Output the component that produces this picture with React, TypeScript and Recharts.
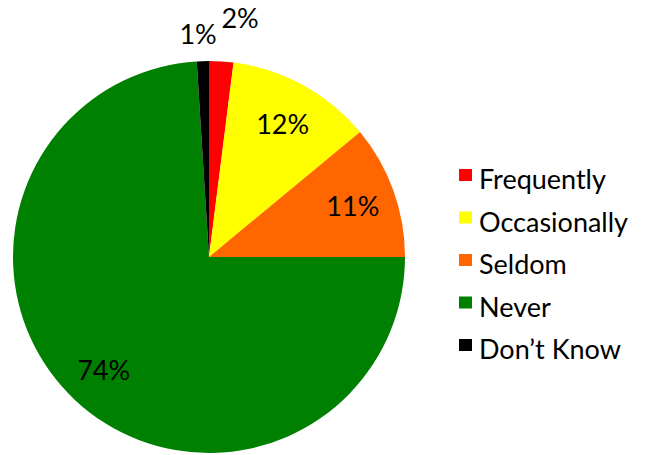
import React from "react";
import { PieChart, Pie, Cell, Legend } from "recharts";

const categories = ["Frequently", "Occasionally", "Seldom", "Never", "Don\u2019t Know"];
const values = [2, 12, 11, 74, 1];
const labels = ["2%", "12%", "11%", "74%", "1%"];
const colors = ["#FF0000", "#FFFF00", "#FF6600", "#008000", "#000000"];

const data = categories.map((name, i) => ({ name, value: values[i], label: labels[i] }));

const FONT = "Lato, 'Open Sans', sans-serif";
const FS = 27;
const RAD = Math.PI / 180;

// label radius (relative to outerRadius) and angle tweak per slice
const labelR = [1.23, 0.78, 0.78, 0.785, 1.143];
const labelDA = [-3.8, 0, 0, 0, 1];

const renderLabel = (props: any) => {
  const { cx, cy, midAngle, outerRadius, index } = props;
  const r = outerRadius * labelR[index];
  const a = (midAngle + labelDA[index]) * RAD;
  const x = cx + r * Math.cos(a);
  const y = cy - r * Math.sin(a);
  return (
    <text
      x={x}
      y={y}
      fill="#000"
      fontSize={FS}
      fontFamily={FONT}
      textAnchor="middle"
      dominantBaseline="central"
    >
      {data[index].label}
    </text>
  );
};

const ROW = 42.5;

const renderLegend = () => (
  <svg width={186} height={230} style={{ display: "block", overflow: "visible" }}>
    {data.map((d, i) => (
      <g key={d.name}>
        <rect x={0} y={9 + i * ROW} width={13} height={12} fill={colors[i]} />
        <text x={20} y={29 + i * ROW} fontSize={FS} fontFamily={FONT} fill="#000">
          {d.name}
        </text>
      </g>
    ))}
  </svg>
);

export default function App() {
  return (
    <div style={{ position: "absolute", left: 0, top: 0, background: "#fff" }}>
      <PieChart width={645} height={455} margin={{ top: 0, right: 0, bottom: 0, left: 0 }}>
        <Pie
          data={data}
          dataKey="value"
          nameKey="name"
          cx={209}
          cy={257}
          outerRadius={196}
          startAngle={90}
          endAngle={-270}
          stroke="none"
          label={renderLabel}
          labelLine={false}
          isAnimationActive={false}
        >
          {data.map((d, i) => (
            <Cell key={d.name} fill={colors[i]} />
          ))}
        </Pie>
        <Legend
          content={renderLegend}
          layout="vertical"
          wrapperStyle={{ position: "absolute", left: 459, top: 160, width: 186 }}
        />
      </PieChart>
    </div>
  );
}
